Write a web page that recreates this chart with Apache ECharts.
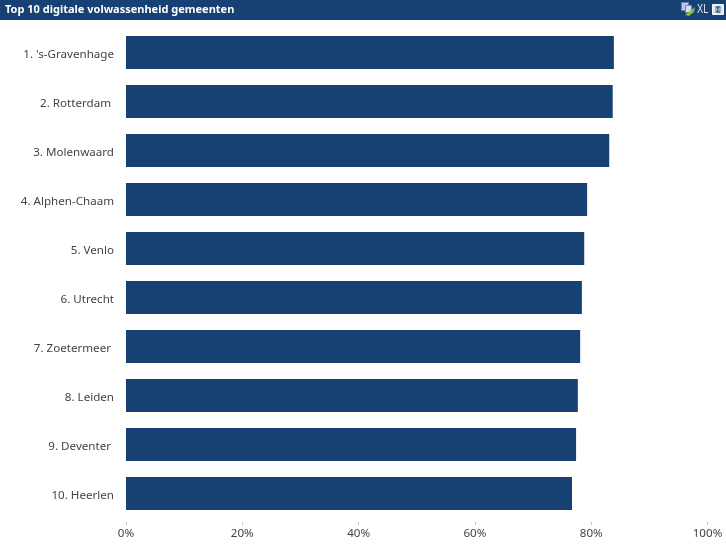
<!DOCTYPE html>
<html>
<head>
<meta charset="utf-8">
<title>Top 10 digitale volwassenheid gemeenten</title>
<script src="https://cdn.jsdelivr.net/npm/echarts@6/dist/echarts.min.js"></script>
<style>
html, body { margin: 0; padding: 0; background: #fff; }
#chart { width: 726px; height: 546px; }
</style>
</head>
<body>
<div id="chart"></div>
<script>
const titleText = 'Top 10 digitale volwassenheid gemeenten';
const gemeenten = ["1. 's-Gravenhage", '2. Rotterdam ', '3. Molenwaard', '4. Alphen-Chaam', '5. Venlo',
  '6. Utrecht', '7. Zoetermeer ', '8. Leiden', '9. Deventer ', '10. Heerlen'];
const waarden = [83.9, 83.7, 83.1, 79.3, 78.8, 78.4, 78.1, 77.7, 77.4, 76.7];

const fontName = '"Noto Sans", sans-serif';
const blauw = '#164172';

const myechart = echarts.init(document.getElementById('chart'), null, { renderer: 'canvas' });

let option = {
  animation: false,
  backgroundColor: '#fff',
  title: {
    text: titleText,
    left: 5,
    top: 3,
    padding: 0,
    textStyle: { color: '#fff', fontFamily: fontName, fontSize: 11, fontWeight: 'bold', lineHeight: 14 }
  },
  grid: { left: 126, right: 18.5, top: 28, bottom: 28 },
  xAxis: {
    type: 'value',
    min: 0,
    max: 100,
    interval: 20,
    offset: 4,
    axisLine: { show: false },
    axisTick: { show: true, length: 3, lineStyle: { color: '#c8c8c8', width: 1 } },
    splitLine: { show: false },
    axisLabel: {
      formatter: '{value}%',
      color: '#444',
      fontFamily: fontName,
      fontSize: 11.6,
      margin: 6,
      hideOverlap: false
    }
  },
  yAxis: {
    type: 'category',
    inverse: true,
    data: gemeenten,
    axisLine: { show: false },
    axisTick: { show: false },
    axisLabel: {
      margin: 12,
      interval: 0,
      // labels staan iets onder het midden van de balk
      formatter: (v) => `{c|${v}}`,
      rich: { c: { color: '#444', fontFamily: fontName, fontSize: 11.6, padding: [4, 0, 0, 0] } }
    }
  },
  series: [
    {
      type: 'bar',
      data: waarden,
      barCategoryGap: '33%',
      itemStyle: { color: blauw }
    }
  ],
  graphic: [
    // kopbalk
    { type: 'rect', z: -1, shape: { x: 0, y: 0, width: 726, height: 20 }, style: { fill: blauw } },
    // icoontjes rechtsboven
    { type: 'rect', z: 5, shape: { x: 681.5, y: 2.5, width: 7, height: 8 }, style: { fill: '#b9c9e4', stroke: '#6d86b5', lineWidth: 1 } },
    { type: 'rect', z: 6, shape: { x: 685.5, y: 5.5, width: 6, height: 7 }, style: { fill: '#d5def0', stroke: '#6d86b5', lineWidth: 1 } },
    { type: 'polygon', z: 7, shape: { points: [[685, 15], [690, 11], [695, 7], [694, 12], [689, 16]] }, style: { fill: '#8dbb3c' } },
    { type: 'text', z: 5, x: 697, y: 3, scaleX: 0.72, style: { text: 'XL', fill: '#dfe6f0', font: '13px "Liberation Sans", sans-serif' } },
    { type: 'rect', z: 5, shape: { x: 712.5, y: 4.5, width: 11, height: 10 }, style: { fill: '#dfe8f2', stroke: '#f4f7fa', lineWidth: 1 } },
    { type: 'rect', z: 6, shape: { x: 715, y: 6, width: 6, height: 7 }, style: { fill: '#9fb4cb' } },
    { type: 'polyline', z: 7, shape: { points: [[720, 7], [716.5, 7], [718.5, 9.5], [716.5, 12], [720, 12]] }, style: { fill: 'none', stroke: '#163e68', lineWidth: 1 } }
  ]
};
myechart.setOption(option);
window.onresize = () => { myechart.resize() }
</script>
</body>
</html>
